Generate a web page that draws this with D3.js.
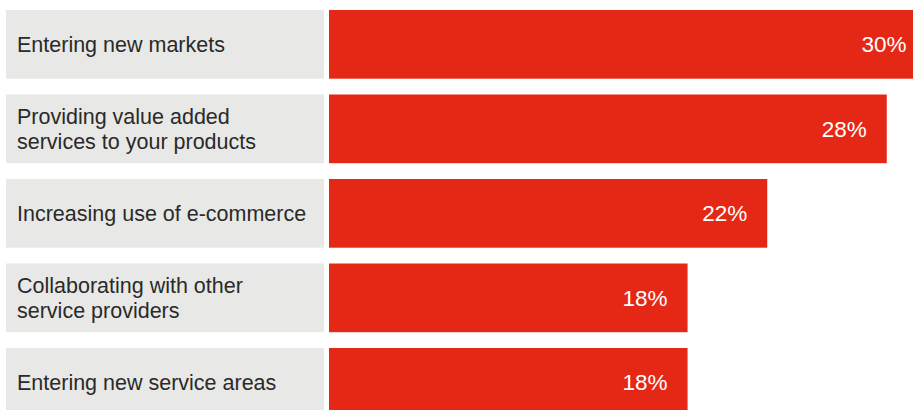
<!DOCTYPE html>
<html>
<head>
<meta charset="utf-8">
<script src="https://cdn.jsdelivr.net/npm/d3@7"></script>
<style>
  html, body { margin: 0; padding: 0; background: #fff; }
  svg { display: block; }
</style>
</head>
<body>
<svg id="chart" width="913" height="410"></svg>
<script>
// Share of respondents for each growth strategy
const categories = [
  ["Entering new markets"],
  ["Providing value added", "services to your products"],
  ["Increasing use of e-commerce"],
  ["Collaborating with other", "service providers"],
  ["Entering new service areas"]
];
const values = [30, 28, 22, 18, 18];
const valueLabels = ["30%", "28%", "22%", "18%", "18%"];

const svg = d3.select("#chart");

const keys = categories.map((c, i) => i);
const y = d3.scaleBand()
  .domain(keys)
  .range([10, 416.7])
  .paddingInner(0.187)
  .paddingOuter(0);

const x = d3.scaleLinear().domain([0, 30]).range([329, 926.6]);

const rows = svg.selectAll("g.row")
  .data(keys)
  .join("g")
  .attr("class", "row")
  .attr("transform", i => `translate(0,${y(i)})`);

const bh = y.bandwidth();

// label panel
rows.append("rect")
  .attr("x", 6)
  .attr("y", 0)
  .attr("width", 318)
  .attr("height", bh)
  .attr("fill", "#e8e8e6");

// value bar
rows.append("rect")
  .attr("x", x(0))
  .attr("y", 0)
  .attr("width", i => x(values[i]) - x(0))
  .attr("height", bh)
  .attr("fill", "#e52815");

// category text, one or two lines
const lineH = 25.5;
rows.each(function(i) {
  const lines = categories[i];
  const g = d3.select(this);
  const base = bh / 2 + 7.5 - (lines.length - 1) * lineH / 2;
  lines.forEach((t, k) => {
    g.append("text")
      .attr("x", 17)
      .attr("y", base + k * lineH)
      .attr("font-family", "'Liberation Sans', Arial, sans-serif")
      .attr("font-size", 21.5)
      .attr("fill", "#2a2a2a")
      .text(t);
  });
});

// value label inside the bar end
rows.append("text")
  .attr("x", i => x(values[i]) - 20)
  .attr("y", bh / 2 + 7.8)
  .attr("text-anchor", "end")
  .attr("font-family", "'Liberation Sans', Arial, sans-serif")
  .attr("font-size", 22.5)
  .attr("fill", "#fff")
  .text(i => valueLabels[i]);
</script>
</body>
</html>
